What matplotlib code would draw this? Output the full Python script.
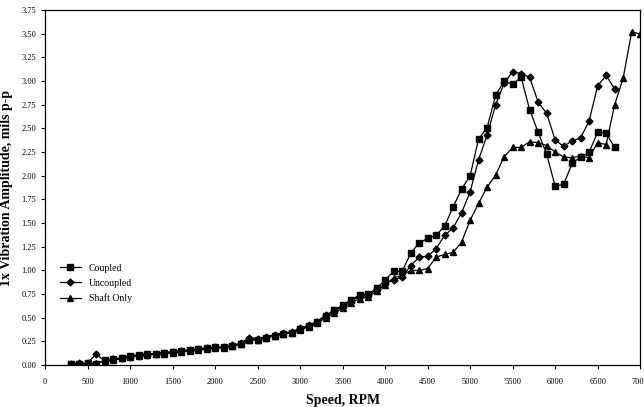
import matplotlib
matplotlib.use("Agg")
import matplotlib.pyplot as plt
import numpy as np

plt.rcParams['font.family'] = ['Liberation Serif', 'DejaVu Serif']

# wspólna część krzywych przy niskich obrotach (300-3900 RPM)
low_rpm = list(range(300, 4000, 100))
coupled_low = [0.01, 0.01, 0.02, 0.01, 0.05, 0.06, 0.08, 0.10, 0.11, 0.12, 0.12, 0.13,
               0.14, 0.15, 0.16, 0.17, 0.18, 0.19, 0.19, 0.20, 0.22, 0.27, 0.27, 0.29,
               0.31, 0.33, 0.34, 0.38, 0.41, 0.45, 0.52, 0.58, 0.63, 0.69, 0.74, 0.75, 0.81]
uncoupled_low = [0.01, 0.02, 0.02, 0.12, 0.04, 0.06, 0.07, 0.09, 0.10, 0.11, 0.12, 0.13,
                 0.14, 0.15, 0.16, 0.17, 0.18, 0.19, 0.19, 0.21, 0.23, 0.29, 0.28, 0.30,
                 0.32, 0.34, 0.35, 0.39, 0.42, 0.46, 0.53, 0.57, 0.62, 0.68, 0.72, 0.74, 0.80]
shaft_low = [0.00, 0.01, 0.01, 0.02, 0.04, 0.05, 0.07, 0.09, 0.10, 0.11, 0.12, 0.12,
             0.13, 0.14, 0.15, 0.16, 0.17, 0.18, 0.18, 0.20, 0.22, 0.26, 0.27, 0.29,
             0.31, 0.33, 0.34, 0.37, 0.40, 0.44, 0.50, 0.55, 0.60, 0.66, 0.70, 0.72, 0.78]

# wyższe obroty
coupled_high_rpm = list(range(4000, 6800, 100))
coupled_high = [0.90, 0.99, 0.99, 1.18, 1.29, 1.34, 1.37, 1.47, 1.67, 1.86, 2.00, 2.39,
                2.51, 2.85, 3.00, 2.97, 3.04, 2.70, 2.46, 2.23, 1.89, 1.91, 2.13, 2.20,
                2.25, 2.46, 2.45, 2.30]
uncoupled_high_rpm = list(range(4000, 6800, 100))
uncoupled_high = [0.86, 0.90, 0.93, 1.05, 1.14, 1.15, 1.23, 1.37, 1.45, 1.61, 1.83, 2.17,
                  2.43, 2.75, 2.98, 3.10, 3.08, 3.04, 2.78, 2.66, 2.38, 2.31, 2.37, 2.40,
                  2.58, 2.95, 3.06, 2.92]
shaft_high_rpm = list(range(4000, 7100, 100))
shaft_high = [0.85, 0.92, 0.95, 1.00, 1.00, 1.02, 1.14, 1.17, 1.19, 1.30, 1.53, 1.71,
              1.88, 2.01, 2.20, 2.30, 2.30, 2.36, 2.35, 2.32, 2.25, 2.20, 2.19, 2.21,
              2.19, 2.35, 2.33, 2.75, 3.03, 3.52, 3.50]

x_ticks = list(range(0, 7001, 500))
y_ticks = [i * 0.25 for i in range(16)]

series = [
    ("Coupled", low_rpm + coupled_high_rpm, coupled_low + coupled_high, 's', 4.5),
    ("Uncoupled", low_rpm + uncoupled_high_rpm, uncoupled_low + uncoupled_high, 'D', 3.5),
    ("Shaft Only", low_rpm + shaft_high_rpm, shaft_low + shaft_high, '^', 4.0),
]

fig = plt.figure(figsize=(6.44, 4.07), dpi=100)
ax = fig.add_axes([0.070, 0.103, 0.924, 0.872])

for name, xs, ys, mk, ms in series:
    ax.plot(xs, ys, color='black', lw=0.9, marker=mk, markersize=ms, label=name)

ax.set_xlim(0, 7000)
ax.set_ylim(0, 3.75)
ax.set_xticks(x_ticks)
ax.set_yticks(y_ticks)
ax.set_xticklabels([str(v) for v in x_ticks])
ax.set_yticklabels([f"{v:.2f}" for v in y_ticks])
ax.tick_params(axis='both', labelsize=6, direction='out', length=3, width=0.8)
ax.tick_params(axis='x', pad=6)

for s in ax.spines.values():
    s.set_linewidth(0.9)

ax.set_xlabel("Speed, RPM", fontsize=10, fontweight='bold', labelpad=6)
ax.set_ylabel("1x Vibration Amplitude, mils p-p", fontsize=10, fontweight='bold', labelpad=6)

ax.legend(loc='lower left', bbox_to_anchor=(0.01, 0.15), frameon=False, fontsize=7,
          handlelength=2.2, labelspacing=0.6)

fig.savefig("out.png", dpi=100)
